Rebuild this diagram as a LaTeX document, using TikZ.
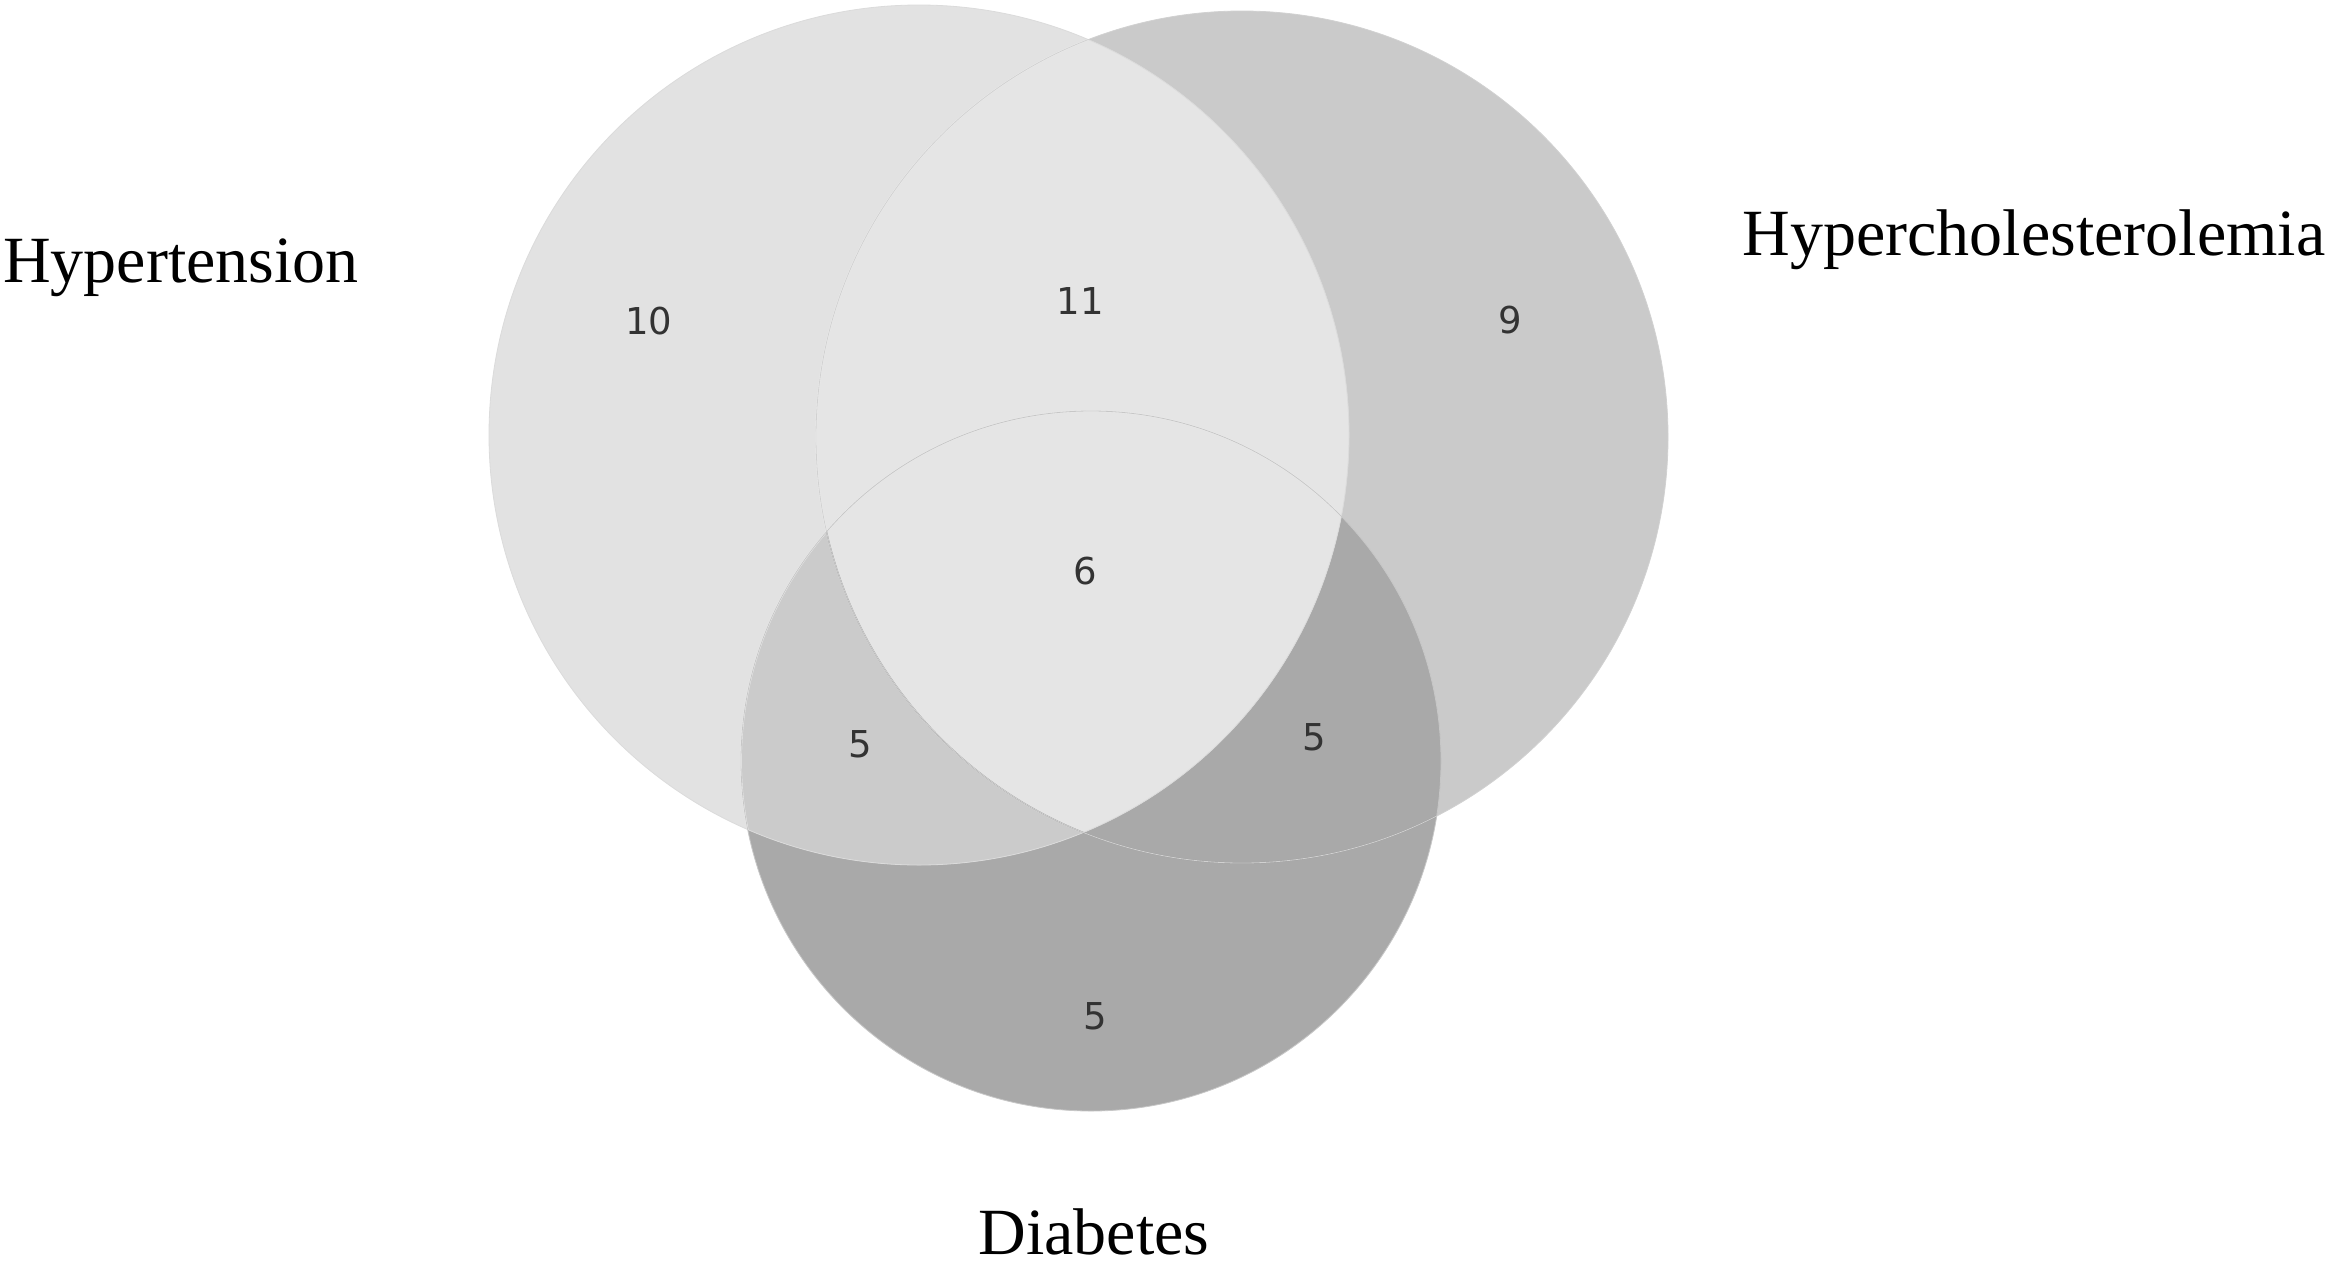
\documentclass[tikz,border=0pt]{standalone}
\usepackage{fontspec}
\setmainfont{Liberation Serif}
\newfontfamily\numfont{DejaVu Sans}
\definecolor{hyponly}{HTML}{E2E2E2}
\definecolor{hconly}{HTML}{CACACA}
\definecolor{diaonly}{HTML}{A9A9A9}
\definecolor{hypdia}{HTML}{CBCBCB}
\definecolor{hyphc}{HTML}{E5E5E5}
\definecolor{numcol}{HTML}{333333}
\tikzset{
  numlbl/.style={font=\numfont\fontsize{18.5pt}{22pt}\selectfont, text=numcol, inner sep=0pt},
  setlbl/.style={font=\fontsize{33pt}{38pt}\selectfont, text=black, inner sep=0pt, anchor=base},
}
\begin{document}
\begin{tikzpicture}[x=0.5pt,y=-0.5pt]
\useasboundingbox (0,0) rectangle (2333,1264);
\fill[white] (0,0) rectangle (2333,1264);
% circles
\def\hypc{(919,435) circle [radius=215pt]}
\def\hcc{(1242,437) circle [radius=213pt]}
\def\diac{(1091,761) circle [radius=175pt]}
\fill[hconly] \hcc;
\fill[diaonly] \diac;
\fill[hyponly] \hypc;
\begin{scope}
  \clip \hypc;
  \fill[hypdia] \diac;
\end{scope}
\begin{scope}
  \clip \hypc;
  \fill[hyphc] \hcc;
\end{scope}
% faint outlines
\begin{scope}
  \clip \hypc;
  \draw[black!7, line width=0.8pt] \hcc;
  \draw[black!7, line width=0.8pt] \diac;
\end{scope}
\begin{scope}
  \clip \diac;
  \draw[black!40, line width=0.6pt] \hcc;
\end{scope}
\draw[black!14, line width=0.4pt] \hypc;
\draw[black!18, line width=0.4pt] \hcc;
\draw[black!22, line width=0.4pt] \diac;
% numbers
\node[numlbl] (n10) at (649,321) {10};
\node[numlbl] (n11) at (1080,301) {11};
\node[numlbl] (n9) at (1510,320) {9};
\node[numlbl] (n6) at (1085,571) {6};
\node[numlbl] (n5a) at (860,744) {5};
\node[numlbl] (n5b) at (1314,737) {5};
\node[numlbl] (n5c) at (1095,1016) {5};
% set labels
\node[setlbl] (lhyp) at (181,282) {Hypertension};
\node[setlbl] (lhc) at (2034,255) {Hypercholesterolemia};
\node[setlbl] (ldia) at (1094,1254) {Diabetes};
\end{tikzpicture}
\end{document}
